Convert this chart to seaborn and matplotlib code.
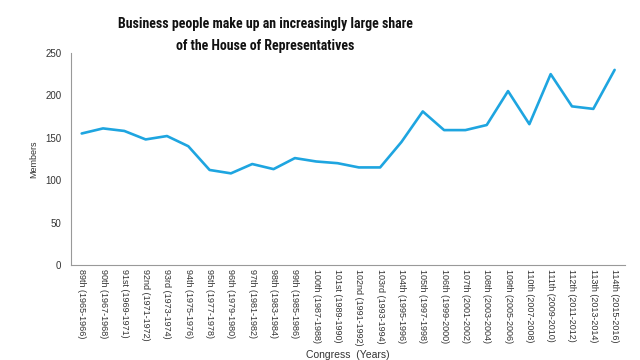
import matplotlib
matplotlib.use('Agg')
import matplotlib.pyplot as plt
import seaborn as sns
import pandas as pd

# Congress sessions and number of members with a business background
congresses = ['89th (1965-1966)', '90th (1967-1968)', '91st (1969-1971)', '92nd (1971-1972)',
              '93rd (1973-1974)', '94th (1975-1976)', '95th (1977-1978)', '96th (1979-1980)',
              '97th (1981-1982)', '98th (1983-1984)', '99th (1985-1986)', '100th (1987-1988)',
              '101st (1989-1990)', '102nd (1991-1992)', '103rd (1993-1994)', '104th (1995-1996)',
              '105th (1997-1998)', '106th (1999-2000)', '107th (2001-2002)', '108th (2003-2004)',
              '109th (2005-2006)', '110th (2007-2008)', '111th (2009-2010)', '112th (2011-2012)',
              '113th (2013-2014)', '114th (2015-2016)']
members = [155, 161, 158, 148, 152, 140, 112, 108, 119, 113, 126, 122, 120,
           115, 115, 145, 181, 159, 159, 165, 205, 166, 225, 187, 184, 230]
y_ticks = [0, 50, 100, 150, 200, 250]

df = pd.DataFrame({'Congress': congresses, 'Members': members})
df['idx'] = range(len(df))

sns.set_style('white')
plt.rcParams['font.family'] = ['Liberation Sans', 'DejaVu Sans']

fig = plt.figure(figsize=(6.4, 3.6), dpi=100)
ax = fig.add_axes([0.111, 0.264, 0.866, 0.589])

sns.lineplot(data=df, x='idx', y='Members', color='#1ea5e0', linewidth=1.9, ax=ax)

ax.set_xlim(-0.5, 25.5)
ax.set_ylim(0, 250)
ax.set_yticks(y_ticks)
ax.set_xticks(df['idx'])
ax.set_xticklabels(congresses, rotation=-90, fontsize=6.5, color='#333333')
ax.tick_params(axis='y', labelsize=7, colors='#333333', length=0, pad=7)
ax.tick_params(axis='x', length=0, pad=3)

for side in ['top', 'right']:
    ax.spines[side].set_visible(False)
for side in ['left', 'bottom']:
    ax.spines[side].set_color('#999999')
    ax.spines[side].set_linewidth(0.8)

ax.set_ylabel('Members', fontsize=6.5, color='#333333', labelpad=5)
ax.set_xlabel('Congress  (Years)', fontsize=7.5, color='#333333', labelpad=3)

fig.text(0.415, 0.903, 'Business people make up an increasingly large share\nof the House of Representatives',
         ha='center', va='center', fontsize=10, fontweight='bold',
         family=['Liberation Sans Narrow', 'Roboto Condensed', 'Open Sans Condensed',
                 'Noto Sans Condensed', 'Roboto', 'DejaVu Sans'],
         linespacing=1.75, color='#111111')

fig.savefig('out.png', dpi=100)
